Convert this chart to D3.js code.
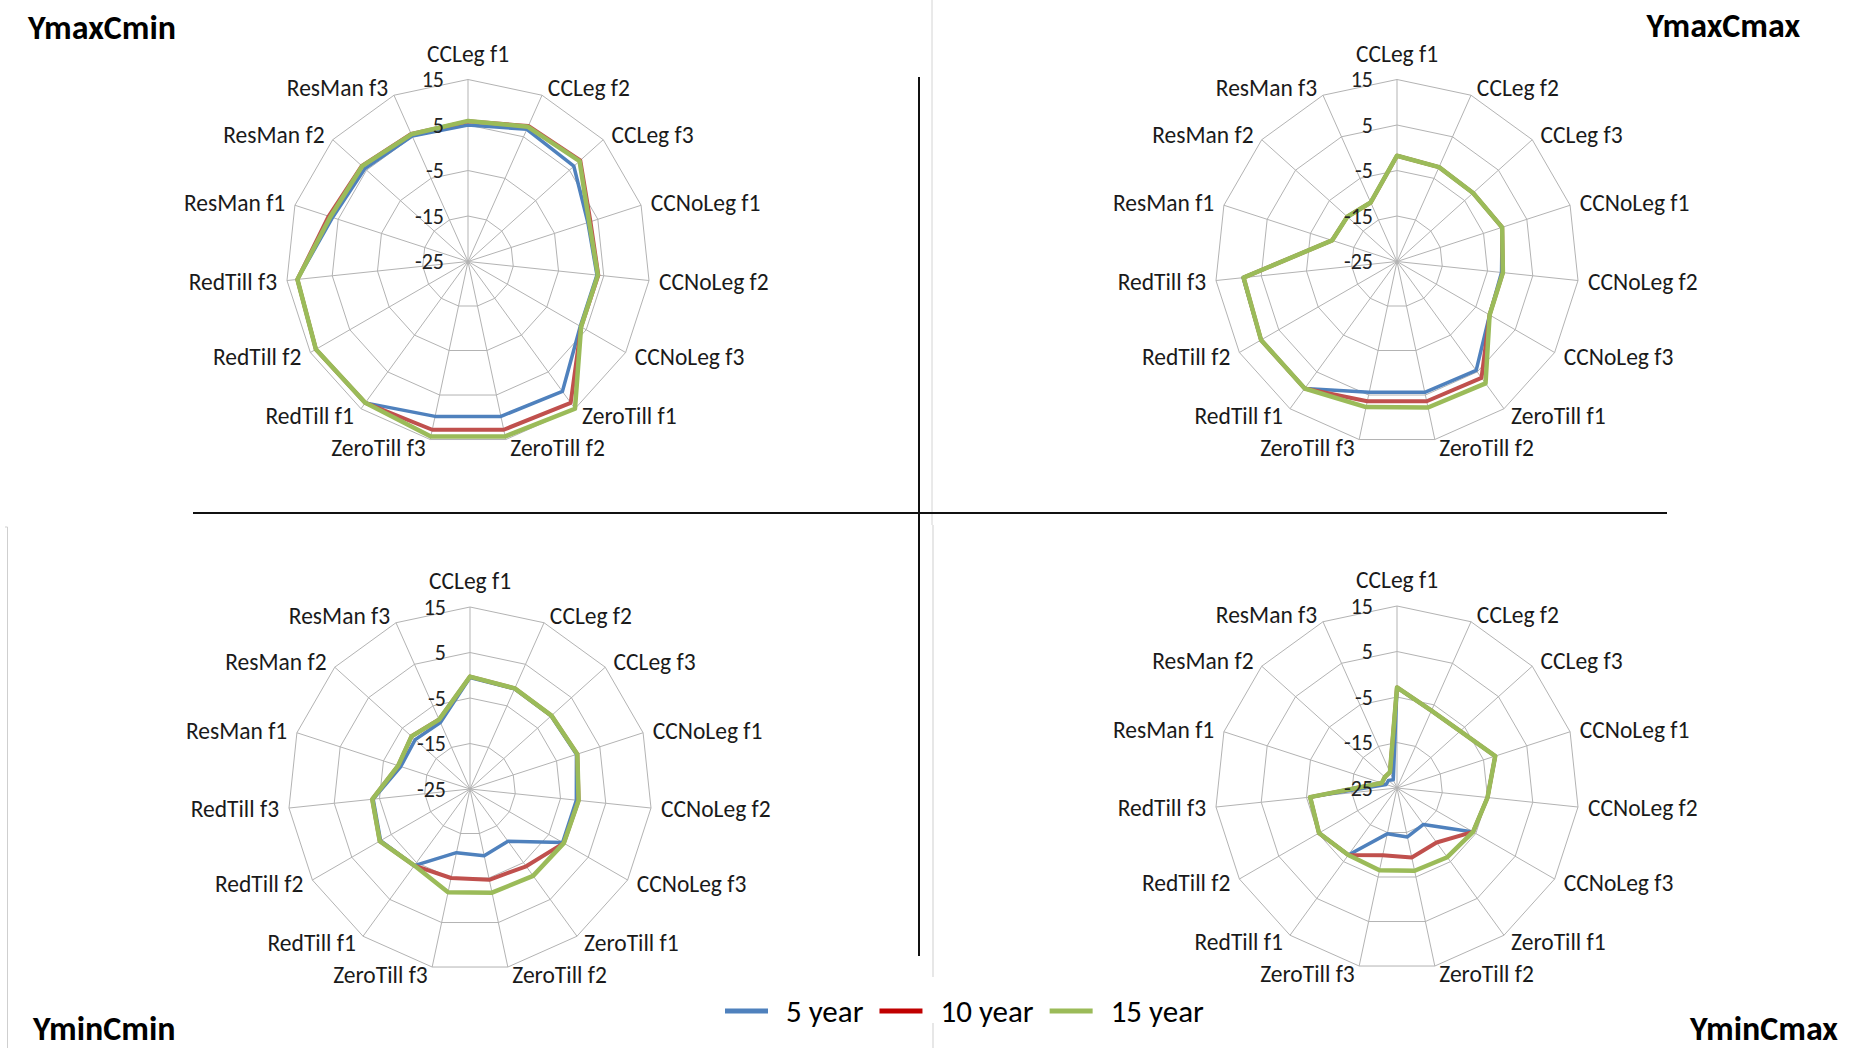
<!DOCTYPE html>
<html>
<head>
<meta charset="utf-8">
<script src="https://cdn.jsdelivr.net/npm/d3@7"></script>
<style>
  body { margin: 0; background: #fff; }
  svg { display: block; font-family: Carlito, Calibri, Lato, sans-serif; }
</style>
</head>
<body>
<svg id="canvas" width="1854" height="1048"></svg>
<script>
// axes, clockwise from the top
const categories = ["CCLeg f1", "CCLeg f2", "CCLeg f3", "CCNoLeg f1", "CCNoLeg f2", "CCNoLeg f3",
    "ZeroTill f1", "ZeroTill f2", "ZeroTill f3", "RedTill f1", "RedTill f2", "RedTill f3",
    "ResMan f1", "ResMan f2", "ResMan f3"];
const tickValues = [-25, -15, -5, 5, 15];
const seriesNames = ["5 year", "10 year", "15 year"];

// YmaxCmin
const ymaxCmin5  = [5.0, 6.8, 6.3, 2.7, 3.5, 3.5, 10.3, 9.8, 9.8, 13.4, 13.6, 12.7, 6.3, 5.5, 5.2];
const ymaxCmin10 = [5.8, 7.6, 8.2, 3.3, 3.8, 3.7, 13.4, 12.8, 12.8, 13.4, 13.6, 12.7, 7.2, 6.4, 5.7];
const ymaxCmin15 = [5.9, 7.4, 8.0, 3.0, 3.7, 3.7, 15.0, 14.3, 14.3, 13.4, 13.6, 12.7, 6.8, 6.3, 5.6];
// YmaxCmax
const ymaxCmax5  = [-1.75, -2.3, -2.5, -0.7, -1.9, -1.5, 4.6, 4.4, 4.4, 9.5, 9.5, 9.0, -10.0, -10.3, -10.8];
const ymaxCmax10 = [-1.75, -2.3, -2.5, -0.7, -1.6, -1.5, 6.6, 6.4, 6.4, 9.5, 9.5, 8.9, -10.0, -10.3, -10.8];
const ymaxCmax15 = [-1.75, -2.3, -2.5, -0.7, -1.6, -1.5, 8.1, 7.8, 7.7, 9.5, 9.5, 8.9, -10.0, -10.3, -10.8];
// YminCmin
const yminCmin5  = [-0.5, -0.9, -1.0, -0.4, -1.5, -1.5, -10.8, -10.0, -10.7, -4.2, -2.3, -3.6, -9.0, -8.8, -9.0];
const yminCmin10 = [-0.3, -0.8, -0.9, -0.2, -1.0, -1.2, -4.0, -4.6, -5.0, -4.2, -2.1, -3.4, -8.4, -7.7, -8.3];
const yminCmin15 = [-0.3, -0.8, -0.9, -0.2, -1.0, -1.2, -1.4, -1.7, -1.8, -4.2, -2.1, -3.4, -8.4, -7.7, -8.3];
// YminCmax
const yminCmax5  = [-2.9, -6.4, -6.3, -2.3, -5.0, -5.7, -15.1, -14.0, -14.7, -6.8, -5.2, -5.8, -22.5, -22.5, -23.0];
const yminCmax10 = [-2.9, -6.4, -6.3, -2.3, -5.0, -5.7, -10.2, -9.4, -9.9, -6.8, -5.2, -5.8, -21.5, -21.4, -21.2];
const yminCmax15 = [-2.9, -6.4, -6.3, -2.3, -5.0, -5.7, -6.2, -6.4, -6.5, -6.8, -5.2, -5.8, -21.5, -21.4, -21.2];

const lineColors = ["#4F81BD", "#C0504D", "#9BBB59"];
const legendColors = ["#4F81BD", "#C00000", "#9BBB59"];
const lineWidths = [3.5, 4, 4.5];

const panels = [
    { title: "YmaxCmin", cx: 468, cy: 261.5, tx: 28, ty: 39, anchor: "start", data: [ymaxCmin5, ymaxCmin10, ymaxCmin15] },
    { title: "YmaxCmax", cx: 1397, cy: 261.5, tx: 1800, ty: 37, anchor: "end", data: [ymaxCmax5, ymaxCmax10, ymaxCmax15] },
    { title: "YminCmin", cx: 470, cy: 789, tx: 33, ty: 1040, anchor: "start", data: [yminCmin5, yminCmin10, yminCmin15] },
    { title: "YminCmax", cx: 1397, cy: 788, tx: 1838, ty: 1040, anchor: "end", data: [yminCmax5, yminCmax10, yminCmax15] }
];

const svg = d3.select("#canvas");
const R = 182;
const step = 2 * Math.PI / categories.length;
const rScale = d3.scaleLinear().domain([-25, 15]).range([0, R]);

// separators and the faint frame lines left over from the pasted pictures
svg.append("line").attr("x1", 932).attr("x2", 932).attr("y1", 0).attr("y2", 525)
    .attr("stroke", "#d4d4d4").attr("stroke-width", 1);
svg.append("line").attr("x1", 933).attr("x2", 933).attr("y1", 525).attr("y2", 977)
    .attr("stroke", "#cfcfcf").attr("stroke-width", 1);
svg.append("line").attr("x1", 933).attr("x2", 933).attr("y1", 1023).attr("y2", 1048)
    .attr("stroke", "#cfcfcf").attr("stroke-width", 1);
svg.append("path").attr("d", "M5,527H7.5V1048").attr("fill", "none")
    .attr("stroke", "#cfcfcf").attr("stroke-width", 1);
svg.append("line").attr("x1", 919).attr("x2", 919).attr("y1", 77).attr("y2", 956)
    .attr("stroke", "#111").attr("stroke-width", 2);
svg.append("line").attr("x1", 193).attr("x2", 1667).attr("y1", 513).attr("y2", 513)
    .attr("stroke", "#111").attr("stroke-width", 2);

panels.forEach(function (p) {
    const g = svg.append("g").attr("transform", `translate(${p.cx},${p.cy})`);

    // rings
    const ring = d3.lineRadial().angle((d, i) => i * step).curve(d3.curveLinearClosed);
    tickValues.filter(t => t > -25).forEach(t => {
        g.append("path")
            .attr("d", ring.radius(rScale(t))(categories))
            .attr("fill", "none")
            .attr("stroke", "#b3b3b3")
            .attr("stroke-width", 1);
    });

    // spokes
    g.selectAll("line.spoke")
        .data(categories)
        .enter()
        .append("line")
        .attr("class", "spoke")
        .attr("x1", 0).attr("y1", 0)
        .attr("x2", (d, i) => R * Math.sin(i * step))
        .attr("y2", (d, i) => -R * Math.cos(i * step))
        .attr("stroke", "#b3b3b3")
        .attr("stroke-width", 1);

    // series
    const line = d3.lineRadial()
        .angle((d, i) => i * step)
        .radius(d => rScale(d))
        .curve(d3.curveLinearClosed);

    p.data.forEach((values, s) => {
        g.append("path")
            .attr("d", line(values))
            .attr("fill", "none")
            .attr("stroke", lineColors[s])
            .attr("stroke-width", lineWidths[s])
            .attr("stroke-linejoin", "round");
    });

    // tick labels
    g.selectAll("text.tick")
        .data(tickValues)
        .enter()
        .append("text")
        .attr("class", "tick")
        .attr("x", -24)
        .attr("y", d => -rScale(d))
        .attr("dy", "0.36em")
        .attr("text-anchor", "end")
        .attr("font-size", 22)
        .attr("fill", "#222")
        .text(d => d);

    // category labels
    g.selectAll("text.cat")
        .data(categories)
        .enter()
        .append("text")
        .attr("class", "cat")
        .attr("x", (d, i) => {
            const s = Math.sin(i * step);
            if (Math.abs(s) < 0.01) return 0;
            return R * s + Math.sign(s) * (3 + 7 * Math.abs(s));
        })
        .attr("y", (d, i) => {
            const c = Math.cos(i * step);
            if (i === 0) return -R - 26;
            return -R * c - c * 8;
        })
        .attr("dy", "0.36em")
        .attr("text-anchor", (d, i) => {
            const s = Math.sin(i * step);
            return Math.abs(s) < 0.01 ? "middle" : (s > 0 ? "start" : "end");
        })
        .attr("font-size", 23.5)
        .attr("fill", "#1a1a1a")
        .text(d => d);

    // panel title
    svg.append("text")
        .attr("x", p.tx)
        .attr("y", p.ty)
        .attr("text-anchor", p.anchor)
        .attr("font-size", 34)
        .attr("font-weight", "bold")
        .attr("fill", "#000")
        .text(p.title);
});

// legend
const legend = svg.append("g").attr("transform", "translate(725,1011)");
let lx = 0;
seriesNames.forEach((name, i) => {
    legend.append("line")
        .attr("x1", lx).attr("x2", lx + 43)
        .attr("y1", 0).attr("y2", 0)
        .attr("stroke", legendColors[i])
        .attr("stroke-width", 5);
    const t = legend.append("text")
        .attr("x", lx + 61)
        .attr("y", 0)
        .attr("dy", "0.36em")
        .attr("font-size", 31)
        .attr("fill", "#000")
        .text(name);
    lx += 61 + t.node().getComputedTextLength() + 16;
});
</script>
</body>
</html>
